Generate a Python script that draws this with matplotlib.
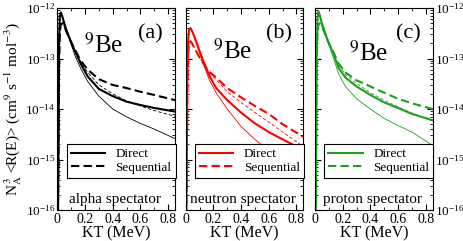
import matplotlib
matplotlib.use('Agg')
import matplotlib.pyplot as plt
from matplotlib.ticker import LogLocator, MultipleLocator, NullFormatter

plt.rcParams['font.family'] = 'Liberation Serif'
plt.rcParams['mathtext.fontset'] = 'stix'

# temperature grid (MeV) shared by all curves
kt = [0.002, 0.008, 0.012, 0.018, 0.025, 0.035, 0.05, 0.07, 0.1, 0.13,
      0.17, 0.22, 0.3, 0.4, 0.5, 0.6, 0.7, 0.85]

# (a) alpha spectator
a_direct = [1e-17, 1e-15, 2e-13, 7e-13, 8.2e-13, 7e-13, 5e-13, 3.4e-13, 2.1e-13, 1.35e-13,
            7.8e-14, 4.4e-14, 2.5e-14, 1.8e-14, 1.4e-14, 1.2e-14, 1.05e-14, 8.9e-15]
a_seq = [1e-17, 1e-15, 5e-14, 3e-13, 4.8e-13, 5e-13, 4.3e-13, 3.2e-13, 2.1e-13, 1.45e-13,
         9e-14, 6e-14, 3.9e-14, 3e-14, 2.6e-14, 2.2e-14, 1.9e-14, 1.5e-14]
a_direct_thin = [1e-17, 1e-15, 2e-13, 7e-13, 8e-13, 6.8e-13, 4.8e-13, 3.3e-13, 1.9e-13, 1.1e-13,
                 6.3e-14, 3.5e-14, 1.8e-14, 1e-14, 7e-15, 5.2e-15, 4e-15, 2.6e-15]
a_seq_thin = [1e-17, 1e-15, 5e-14, 3e-13, 4.8e-13, 5e-13, 4.3e-13, 3.2e-13, 2.0e-13, 1.4e-13,
              8.5e-14, 5.3e-14, 3e-14, 2e-14, 1.45e-14, 1.15e-14, 9.3e-15, 7.2e-15]

# (b) neutron spectator
b_direct = [1e-17, 1e-15, 5e-14, 2.5e-13, 3.8e-13, 4e-13, 3.3e-13, 2.4e-13, 1.4e-13, 8.5e-14,
            4.6e-14, 2.6e-14, 1.5e-14, 8.5e-15, 5.2e-15, 3.5e-15, 2.5e-15, 1.55e-15]
b_seq = [1e-17, 1e-15, 3e-14, 1.3e-13, 2.1e-13, 2.2e-13, 1.9e-13, 1.5e-13, 1.05e-13, 7.8e-14,
         5.5e-14, 4.2e-14, 2.6e-14, 1.7e-14, 1.15e-14, 8e-15, 5e-15, 2.8e-15]
b_direct_thin = [1e-17, 1e-15, 5e-14, 2.5e-13, 3.8e-13, 4e-13, 3.3e-13, 2.3e-13, 1.3e-13, 7.5e-14,
                 3.8e-14, 2.1e-14, 1e-14, 4.5e-15, 2.5e-15, 1.5e-15, 1e-15, 5.6e-16]
b_seq_thin = [1e-17, 1e-15, 3e-14, 1.3e-13, 2.1e-13, 2.2e-13, 1.9e-13, 1.5e-13, 1.05e-13, 7.8e-14,
              5.3e-14, 3.8e-14, 2.2e-14, 1.35e-14, 8.5e-15, 5.5e-15, 3.5e-15, 1.8e-15]

# (c) proton spectator
c_direct = [1e-17, 1e-15, 1e-13, 6e-13, 8.5e-13, 7.2e-13, 5e-13, 3.4e-13, 2e-13, 1.3e-13,
            6.5e-14, 4.2e-14, 2.8e-14, 1.9e-14, 1.35e-14, 1.05e-14, 8e-15, 6e-15]
c_seq = [1e-17, 1e-15, 5e-14, 3e-13, 4.8e-13, 5e-13, 4.3e-13, 3.2e-13, 2.0e-13, 1.4e-13,
         8e-14, 5.3e-14, 3.7e-14, 2.8e-14, 2.1e-14, 1.6e-14, 1.3e-14, 1.0e-14]
c_direct_thin = [1e-17, 1e-15, 1e-13, 6e-13, 8.5e-13, 7e-13, 4.8e-13, 3.3e-13, 1.9e-13, 1.1e-13,
                 5e-14, 2.8e-14, 1.6e-14, 1e-14, 6.5e-15, 4.7e-15, 3.5e-15, 1.9e-15]
c_seq_thin = [1e-17, 1e-15, 5e-14, 3e-13, 4.8e-13, 5e-13, 4.3e-13, 3.2e-13, 2.0e-13, 1.4e-13,
              7.5e-14, 4.8e-14, 3.2e-14, 2.1e-14, 1.5e-14, 1.1e-14, 8.3e-15, 5.8e-15]

panels = [
    ('(a)', 'alpha spectator', 'black', a_direct, a_seq, a_direct_thin, a_seq_thin),
    ('(b)', 'neutron spectator', '#ff0000', b_direct, b_seq, b_direct_thin, b_seq_thin),
    ('(c)', 'proton spectator', '#1f9f1f', c_direct, c_seq, c_direct_thin, c_seq_thin),
]

fig = plt.figure(figsize=(4.63, 2.41), dpi=100)
lefts = [0.1238, 0.4011, 0.6803]
be_pos = [(0.23, 0.78), (0.23, 0.75), (0.29, 0.74)]

for i, (tag, spect, col, d, s, dt, st) in enumerate(panels):
    ax = fig.add_axes([lefts[i], 0.1286, 0.2542, 0.838])
    ax.plot(kt, dt, color=col, lw=0.6)
    ax.plot(kt, st, color=col, lw=0.6, ls=(0, (4, 2.5)))
    ax.plot(kt, d, color=col, lw=1.5, label='Direct')
    ax.plot(kt, s, color=col, lw=1.5, ls=(0, (4, 2)), label='Sequential')
    ax.set_yscale('log')
    ax.set_ylim(1e-16, 1e-12)
    ax.set_xlim(0, 0.85)
    ax.xaxis.set_minor_locator(MultipleLocator(0.1))
    ax.yaxis.set_major_locator(LogLocator(base=10, numticks=10))
    ax.yaxis.set_minor_locator(LogLocator(base=10, subs=range(2, 10), numticks=20))
    ax.yaxis.set_minor_formatter(NullFormatter())
    ax.tick_params(which='both', direction='in', top=True, right=True, labelsize=10, pad=2)
    ax.tick_params(axis='y', labelsize=9.5, pad=1.5)
    ax.tick_params(which='major', length=4, width=0.8)
    ax.tick_params(which='minor', length=2, width=0.6)
    ax.set_xticks([0, 0.2, 0.4, 0.6, 0.8])
    ax.set_xticklabels(['0', '0.2', '0.4', '0.6', '0.8'])
    if i == 1:
        ax.tick_params(labelleft=False)
    if i == 2:
        ax.tick_params(labelleft=False, labelright=True)
    ax.set_xlabel('KT (MeV)', fontsize=11.5, labelpad=0)
    ax.text(be_pos[i][0], be_pos[i][1], r'$^{9}$Be', transform=ax.transAxes, fontsize=18)
    ax.text(0.9, 0.87, tag, transform=ax.transAxes, fontsize=16, ha='right', va='center')
    ax.text(0.49, 0.05, spect, transform=ax.transAxes, fontsize=11, ha='center', va='center')
    leg = ax.legend(loc='lower left', bbox_to_anchor=(0.08, 0.16), borderaxespad=0,
                    fontsize=9.5, handlelength=2.6, handletextpad=0.8, labelspacing=0.1,
                    borderpad=0.3, fancybox=False, framealpha=1)
    leg.get_frame().set_edgecolor('black')
    leg.get_frame().set_linewidth(0.8)
    if i == 0:
        ax.set_ylabel(r'N$_\mathrm{A}^{\,3}$ <R(E)> (cm$^9$ s$^{-1}$ mol$^{-3}$)', fontsize=11, labelpad=1)

fig.savefig('out.png', dpi=100)
